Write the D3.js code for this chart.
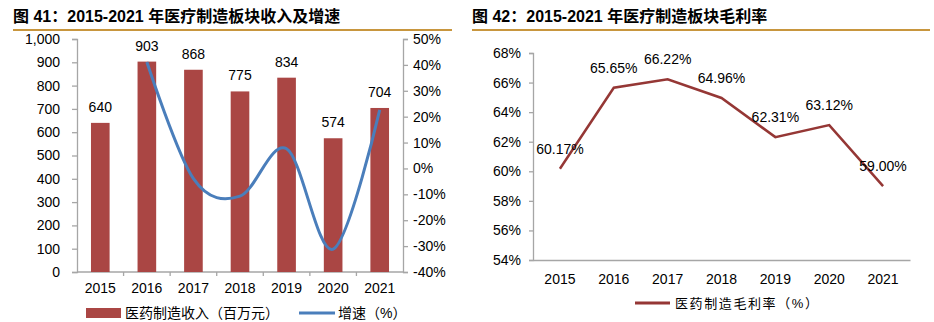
<!DOCTYPE html>
<html>
<head>
<meta charset="utf-8">
<script src="https://cdn.jsdelivr.net/npm/d3@7"></script>
<style>
  html, body { margin: 0; padding: 0; background: #fff; }
  svg text { font-family: "Liberation Sans", Arial, "Noto Sans CJK SC", sans-serif; fill: #000; }
  .cjk { font-family: "Liberation Sans", "Noto Sans CJK SC", sans-serif; }
</style>
</head>
<body>
<svg id="chart" width="934" height="322"></svg>
<script>
// Years shared by both panels
const years = ["2015", "2016", "2017", "2018", "2019", "2020", "2021"];
// Revenue of the pharma manufacturing segment (million yuan)
const revenue = [640, 903, 868, 775, 834, 574, 704];
// Year-on-year growth (%)
const growth = [null, 41.1, -3.9, -10.7, 7.6, -31.2, 22.6];
// Gross margin (%)
const margin = [60.17, 65.65, 66.22, 64.96, 62.31, 63.12, 59.00];

const leftTicks = [0, 100, 200, 300, 400, 500, 600, 700, 800, 900, 1000];
const rightTicks = [-40, -30, -20, -10, 0, 10, 20, 30, 40, 50];
const marginTicks = [54, 56, 58, 60, 62, 64, 66, 68];

const svg = d3.select("#chart");
const axisColor = "#a6a6a6";
const gold = "#c8963e";

// ---- Titles ----
function title(x, x2, txt) {
  svg.append("text").attr("x", x).attr("y", 22)
    .attr("font-size", 16).attr("font-weight", "bold").text(txt);
  svg.append("line").attr("x1", x).attr("x2", x2).attr("y1", 30).attr("y2", 30)
    .attr("stroke", gold).attr("stroke-width", 2);
}
title(13, 452, "图 41：2015-2021 年医疗制造板块收入及增速");
title(472, 930, "图 42：2015-2021 年医疗制造板块毛利率");

function styleAxis(g) {
  g.selectAll("path, line").attr("stroke", axisColor).attr("stroke-width", 1.3);
  g.selectAll("text").attr("font-size", 14).attr("fill", "#000");
}

// ---- Left panel: revenue bars + growth line ----
const L = { x0: 77, x1: 403, yTop: 39, yBot: 272 };
const xL = d3.scaleBand().domain(years).range([L.x0, L.x1]).paddingInner(0.6).paddingOuter(0.3);
const xLoc = d3.scaleBand().domain(years).range([L.x0, L.x1]);
const yL = d3.scaleLinear().domain([0, 1000]).range([L.yBot, L.yTop]);
const yR = d3.scaleLinear().domain([-40, 50]).range([L.yBot, L.yTop]);

const gL = svg.append("g");
gL.append("g").attr("transform", `translate(${L.x0},0)`)
  .call(d3.axisLeft(yL).tickValues(leftTicks).tickSize(5).tickPadding(12).tickFormat(d3.format(",")))
  .call(styleAxis);
gL.append("g").attr("transform", `translate(${L.x1},0)`)
  .call(d3.axisRight(yR).tickValues(rightTicks).tickSize(5).tickPadding(5).tickFormat(d => d + "%"))
  .call(styleAxis);

// category axis with boundary ticks
const bottom = gL.append("g").attr("transform", `translate(0,${L.yBot})`);
bottom.append("line").attr("x1", L.x0).attr("x2", L.x1).attr("y1", 0).attr("y2", 0)
  .attr("stroke", axisColor).attr("stroke-width", 1.3);
bottom.selectAll(".bt").data(years.slice(1)).enter().append("line")
  .attr("x1", d => xLoc(d)).attr("x2", d => xLoc(d)).attr("y1", 0).attr("y2", 4)
  .attr("stroke", axisColor).attr("stroke-width", 1.3);
bottom.selectAll(".yl").data(years).enter().append("text")
  .attr("x", d => xLoc(d) + xLoc.bandwidth() / 2).attr("y", 21)
  .attr("text-anchor", "middle").attr("font-size", 14).text(d => d);

const barColor = "#aa4644";
gL.selectAll(".bar").data(revenue).enter().append("rect")
  .attr("x", (d, i) => xL(years[i]))
  .attr("width", xL.bandwidth())
  .attr("y", d => yL(d))
  .attr("height", d => yL(0) - yL(d))
  .attr("fill", barColor);
gL.selectAll(".bl").data(revenue).enter().append("text")
  .attr("x", (d, i) => xL(years[i]) + xL.bandwidth() / 2)
  .attr("y", d => yL(d) - 11)
  .attr("text-anchor", "middle").attr("font-size", 14).text(d => d);

const growthPts = growth.map((g, i) => ({ x: xLoc(years[i]) + xLoc.bandwidth() / 2, v: g })).filter(p => p.v !== null);
gL.append("path").datum(growthPts)
  .attr("d", d3.line().x(p => p.x).y(p => yR(p.v)).curve(d3.curveCardinal.tension(0)))
  .attr("fill", "none").attr("stroke", "#4a7ebb").attr("stroke-width", 3);

// legend
const lg = gL.append("g").attr("transform", "translate(0,313)");
lg.append("rect").attr("x", 86).attr("y", -5).attr("width", 35).attr("height", 10).attr("fill", barColor);
lg.append("text").attr("class", "cjk").attr("x", 125).attr("y", 5).attr("font-size", 14).text("医药制造收入（百万元）");
lg.append("line").attr("x1", 299).attr("x2", 335).attr("y1", 0).attr("y2", 0)
  .attr("stroke", "#4a7ebb").attr("stroke-width", 3);
lg.append("text").attr("class", "cjk").attr("x", 338).attr("y", 5).attr("font-size", 14).text("增速（%）");

// ---- Right panel: gross margin line ----
const R = { x0: 533, x1: 910, yTop: 53, yBot: 260 };
const xM = d3.scaleBand().domain(years).range([R.x0, R.x1]);
const yM = d3.scaleLinear().domain([54, 68]).range([R.yBot, R.yTop]);
const gR = svg.append("g");
gR.append("g").attr("transform", `translate(${R.x0},0)`)
  .call(d3.axisLeft(yM).tickValues(marginTicks).tickSize(4).tickPadding(8).tickFormat(d => d + "%"))
  .call(styleAxis);
gR.append("g").attr("transform", `translate(0,${R.yBot})`)
  .call(d3.axisBottom(xM).tickSize(0).tickPadding(14))
  .call(styleAxis);

const mx = (d, i) => xM(years[i]) + xM.bandwidth() / 2;
const lineColor = "#953735";
gR.append("path").datum(margin)
  .attr("d", d3.line().x(mx).y(d => yM(d)))
  .attr("fill", "none").attr("stroke", lineColor).attr("stroke-width", 2.5);
gR.selectAll(".ml").data(margin).enter().append("text")
  .attr("x", mx).attr("y", d => yM(d) - 15)
  .attr("text-anchor", "middle").attr("font-size", 14).text(d => d.toFixed(2) + "%");

const rl = gR.append("g").attr("transform", "translate(0,303)");
rl.append("line").attr("x1", 635).attr("x2", 670).attr("y1", 0).attr("y2", 0)
  .attr("stroke", lineColor).attr("stroke-width", 3);
rl.append("text").attr("class", "cjk").attr("x", 675).attr("y", 5).attr("font-size", 13)
  .attr("letter-spacing", 1.6).text("医药制造毛利率（%）");
</script>
</body>
</html>
